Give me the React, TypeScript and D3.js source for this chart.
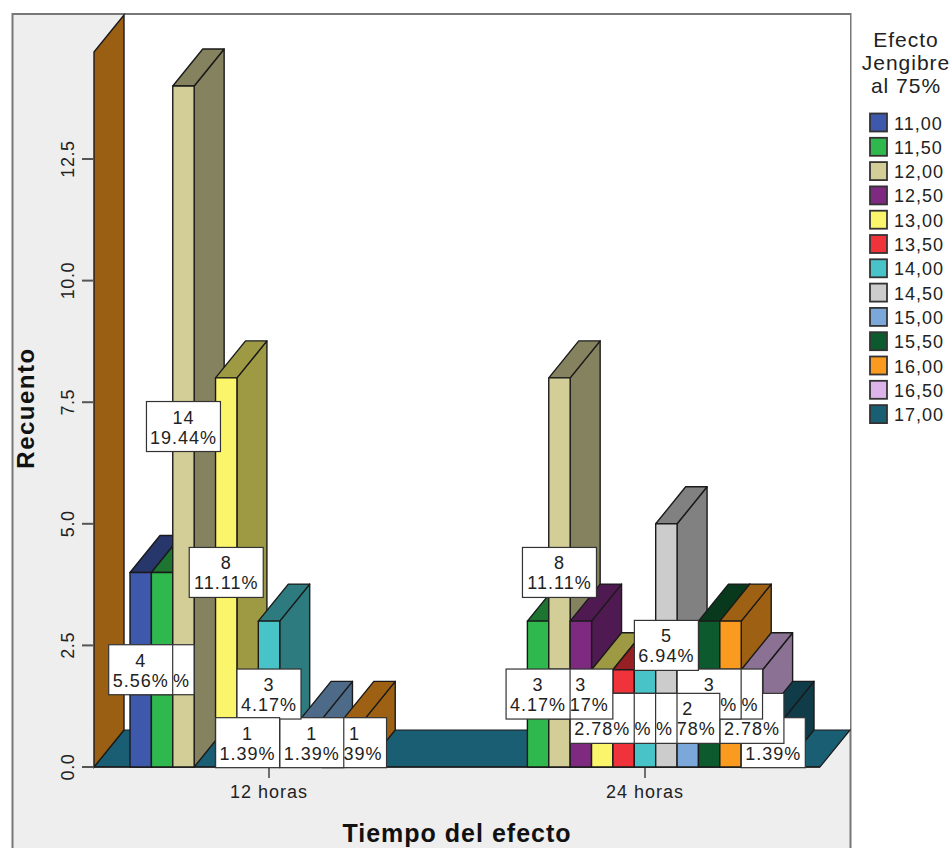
import React from "react";
import * as d3 from "d3";

// Counts per ginger-effect level for each time group
const levels = ["11,00","11,50","12,00","12,50","13,00","13,50","14,00","14,50","15,00","15,50","16,00","16,50","17,00"];
const colors = ["#3E58AC","#2FB84D","#D3CE97","#7D2A80","#FBF56C","#F0323A","#48C4C8","#CCCCCC","#7BA8D8","#0D5A2E","#FA9A1E","#DDB4EA","#1A5E74"];
const groups = ["12 horas","24 horas"];
const counts12 = [4,4,14,0,8,1,3,0,1,0,1,0,0];
const counts24 = [0,3,8,3,2,2,2,5,2,3,3,2,1];
const total = 72;
const yTicks = [0,2.5,5,7.5,10,12.5];
const yMax = 14.7;

const W = 952, H = 848;
const depthX = 30, depthY = 37;
const plotLeft = 94, plotRight = 820, plotBottom = 767;
const font = "'Liberation Sans', Arial, sans-serif";
const ink = "#222";
const LABEL_SIZE = 18;

const y = d3.scaleLinear().domain([0, yMax]).range([plotBottom, 52]);
const xGroup = d3.scalePoint<string>().domain(groups).range([269, 645]);
const xLevel = d3.scaleBand<string>().domain(levels).range([-139, 139]);
const barW = xLevel.bandwidth();

const shade = (c: string, k: number) => {
  const r = d3.rgb(c);
  return d3.rgb(r.r * k, r.g * k, r.b * k).formatHex();
};
const pts = (p: number[][]) => p.map((q) => q.join(",")).join(" ");

type Datum = { group: string; level: string; color: string; value: number; x: number };
const data: Datum[] = groups.flatMap((g, gi) =>
  levels.map((l, i) => ({
    group: g,
    level: l,
    color: colors[i],
    value: (gi === 0 ? counts12 : counts24)[i],
    x: xGroup(g)! + xLevel(l)!,
  })).filter((d) => d.value > 0)
);

function Bar({ d }: { d: Datum }) {
  const x0 = d.x, x1 = d.x + barW, t = y(d.value), b = plotBottom;
  const dark = shade(d.color, 0.63);
  return (
    <g stroke="#1a1a1a" strokeWidth={1.4} strokeLinejoin="round">
      <polygon fill={dark} points={pts([[x1,t],[x1+depthX,t-depthY],[x1+depthX,b-depthY],[x1,b]])} />
      <polygon fill={dark} points={pts([[x0,t],[x0+depthX,t-depthY],[x1+depthX,t-depthY],[x1,t]])} />
      <rect x={x0} y={t} width={barW} height={b - t} fill={d.color} />
    </g>
  );
}

function Label({ d }: { d: Datum }) {
  const cx = d.x + barW / 2, cy = y(d.value / 2);
  const pct = ((d.value / total) * 100).toFixed(2) + "%";
  const w = pct.length > 5 ? 74 : 64, h = 50;
  return (
    <g>
      <rect x={cx - w / 2} y={cy - h / 2} width={w} height={h} fill="#fff" stroke="#333" strokeWidth={1.2} />
      <g textAnchor="middle" fontSize={LABEL_SIZE} fill={ink} letterSpacing={1}>
        <text x={cx} y={cy - 3}>{d.value}</text>
        <text x={cx} y={cy + 17}>{pct}</text>
      </g>
    </g>
  );
}

export default function App() {
  const wallTop = y(yMax);
  const backRight = plotRight + depthX;
  const floorBack = plotBottom - depthY;
  return (
    <svg width={W} height={H} style={{ position: "absolute", left: 0, top: 0 }} fontFamily={font}>
      <rect width={W} height={H} fill="#fff" />
      {/* chart panel */}
      <rect x={12.5} y={14} width={838} height={H + 10} fill="#EEEEEE" stroke="#777" strokeWidth={2} />
      {/* back wall, side wall and floor */}
      <rect x={plotLeft + depthX} y={wallTop - depthY} width={backRight - plotLeft - depthX} height={floorBack - wallTop + depthY} fill="#fff" />
      <polygon fill={colors[12]} stroke="#1a1a1a" strokeWidth={1.2}
        points={pts([[plotLeft,plotBottom],[plotLeft+depthX,floorBack],[backRight,floorBack],[plotRight,plotBottom]])} />
      <polygon fill="#9A5F12" stroke="#1a1a1a" strokeWidth={1.4}
        points={pts([[plotLeft,wallTop],[plotLeft+depthX,wallTop-depthY],[plotLeft+depthX,floorBack],[plotLeft,plotBottom]])} />

      {/* y axis */}
      {yTicks.map((t) => (
        <g key={t}>
          <line x1={plotLeft - 12} x2={plotLeft} y1={y(t)} y2={y(t)} stroke="#555" strokeWidth={2} />
          <text transform={`translate(74,${y(t)}) rotate(-90)`} textAnchor="middle" fontSize={18} letterSpacing={0.6} fill={ink}>
            {t.toFixed(1)}
          </text>
        </g>
      ))}
      <text transform={`translate(34,408) rotate(-90)`} textAnchor="middle" fontSize={24} letterSpacing={1.5} fontWeight="bold" fill="#111">Recuento</text>

      {/* x axis */}
      <line x1={plotLeft} x2={plotRight} y1={plotBottom} y2={plotBottom} stroke="#1a1a1a" strokeWidth={1.4} />
      {groups.map((g) => (
        <g key={g}>
          <line x1={xGroup(g)} x2={xGroup(g)} y1={plotBottom} y2={plotBottom + 11} stroke="#444" strokeWidth={1.5} />
          <text x={xGroup(g)} y={798} textAnchor="middle" fontSize={18} letterSpacing={1} fill={ink}>{g}</text>
        </g>
      ))}
      <text x={457} y={842} textAnchor="middle" fontSize={25} letterSpacing={1} fontWeight="bold" fill="#111">Tiempo del efecto</text>

      {/* bars left to right, labels in reverse so earlier ones stay on top */}
      {data.map((d) => <Bar key={d.group + d.level} d={d} />)}
      {groups.map((g) =>
        data.filter((d) => d.group === g).reverse().map((d) => <Label key={d.group + d.level} d={d} />)
      )}

      {/* legend */}
      <g fill={ink} fontSize={21} letterSpacing={1} textAnchor="middle">
        <text x={906} y={47}>Efecto</text>
        <text x={906} y={70}>Jengibre</text>
        <text x={906} y={93}>al 75%</text>
      </g>
      {levels.map((l, i) => (
        <g key={l} transform={`translate(870,${113.5 + i * 24.3})`}>
          <rect width={17} height={18} fill={colors[i]} stroke="#333" strokeWidth={1.8} />
          <text x={24} y={16} fontSize={18} letterSpacing={1} fill={ink}>{l}</text>
        </g>
      ))}
    </svg>
  );
}
